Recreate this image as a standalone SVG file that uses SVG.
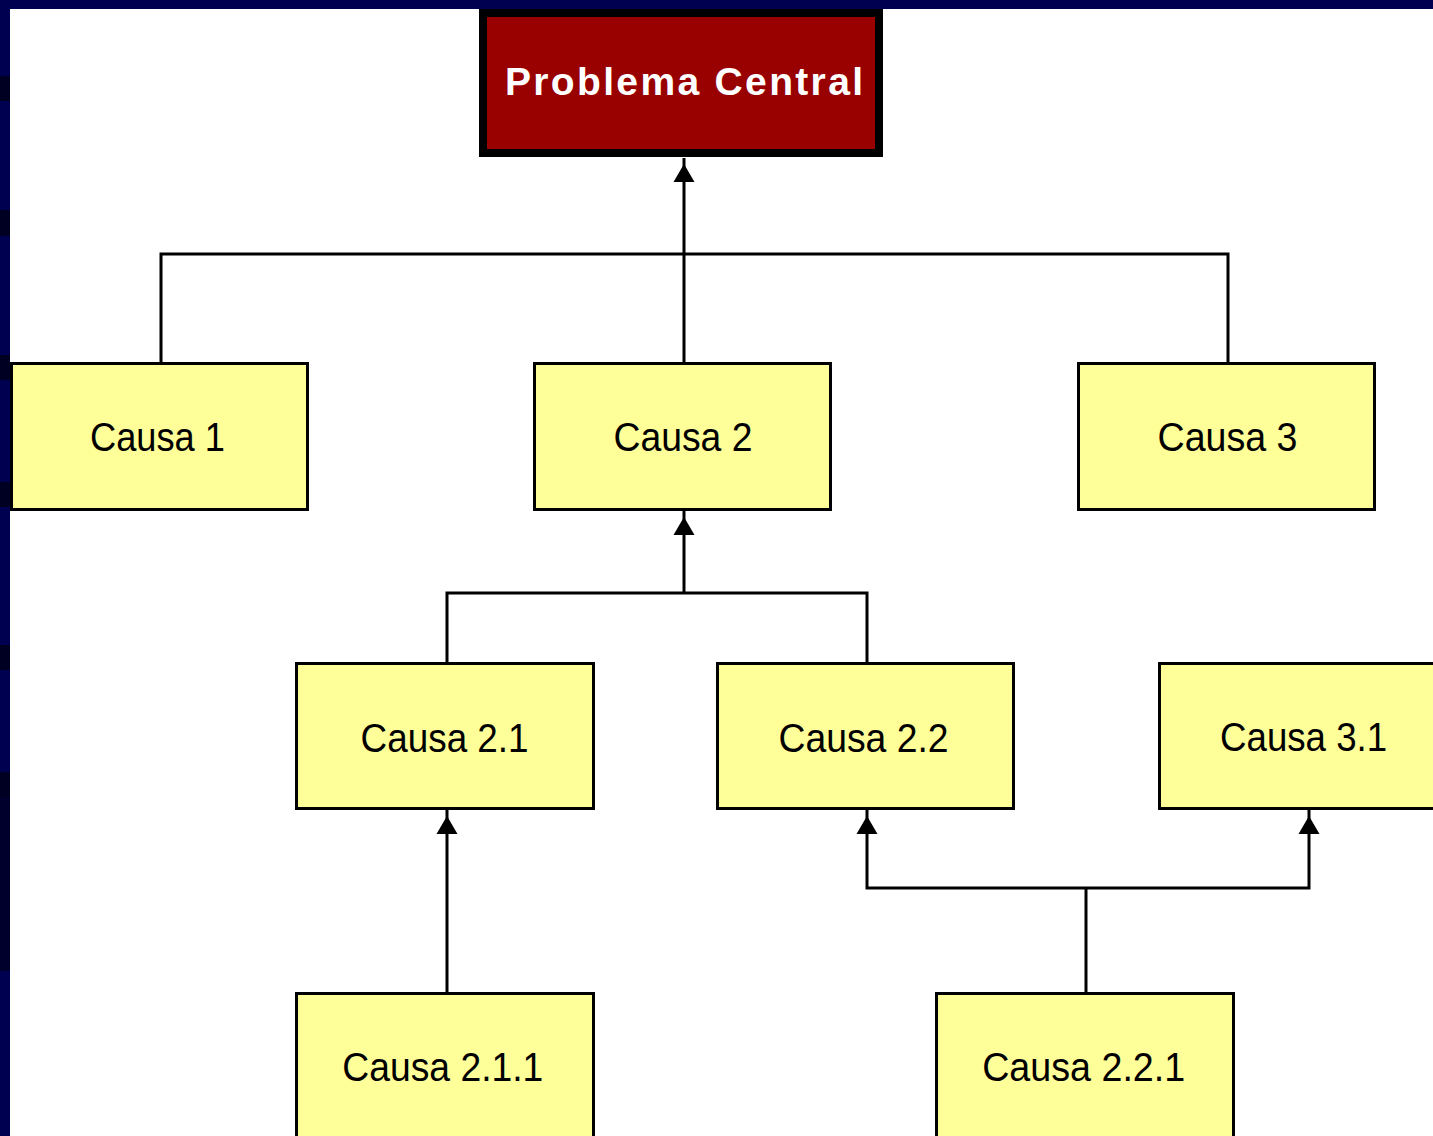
<svg xmlns="http://www.w3.org/2000/svg" xmlns:xlink="http://www.w3.org/1999/xlink" width="1433" height="1136" viewBox="0 0 1433 1136">
<style>
.node rect.cause{fill:#FFFF99;stroke:#000;stroke-width:3}
.node text.cause{font-family:"Liberation Sans",Arial,sans-serif;font-size:40px;fill:#000;text-anchor:middle}
.conn path{fill:none;stroke:#000;stroke-width:3}
.conn use{fill:#000}
.frame{fill:#000050}
.shade{fill:#000022}
</style>
<defs>
<polygon id="ah" points="0,0 10.5,18 -10.5,18"/>
</defs>
<rect x="0" y="0" width="1433" height="1136" fill="#FFFFFF"/>
<g id="frame">
<rect class="frame" x="0" y="0" width="1433" height="9"/>
<rect class="frame" x="0" y="0" width="10" height="1136"/>
<rect class="shade" x="0" y="76" width="10" height="25"/>
<rect class="shade" x="0" y="210" width="10" height="26"/>
<rect class="shade" x="0" y="355" width="10" height="25"/>
<rect class="shade" x="0" y="482" width="10" height="25"/>
<rect class="shade" x="0" y="645" width="10" height="25"/>
<rect class="shade" x="0" y="772" width="10" height="25"/>
<rect x="0" y="797" width="10" height="174" fill="#00002c"/>
</g>
<g id="connectors" class="conn">
<path d="M161,362 V254 H1228 V362"/>
<path d="M684,362 V158"/>
<use xlink:href="#ah" x="684" y="164"/>
<path d="M447,662 V593 H867 V662"/>
<path d="M684,593 V511"/>
<use xlink:href="#ah" x="684" y="517"/>
<path d="M447,992 V810"/>
<use xlink:href="#ah" x="447" y="816"/>
<path d="M1086,992 V888"/>
<path d="M867,810 V888 H1309 V810"/>
<use xlink:href="#ah" x="867" y="816"/>
<use xlink:href="#ah" x="1309" y="816"/>
</g>
<g id="node-problema" class="node">
<rect x="483" y="13" width="396" height="140" fill="#990000" stroke="#000" stroke-width="8"/>
<text x="684" y="95" font-family="Liberation Sans,Arial,sans-serif" font-size="39" font-weight="bold" fill="#FFFFFF" text-anchor="middle" textLength="358" lengthAdjust="spacing">Problema Central</text>
</g>
<g id="node-causa1" class="node">
<rect class="cause" x="11.5" y="363.5" width="296" height="146"/>
<text class="cause" x="157.5" y="451" textLength="135" lengthAdjust="spacingAndGlyphs">Causa 1</text>
</g>
<g id="node-causa2" class="node">
<rect class="cause" x="534.5" y="363.5" width="296" height="146"/>
<text class="cause" x="683" y="451" textLength="139" lengthAdjust="spacingAndGlyphs">Causa 2</text>
</g>
<g id="node-causa3" class="node">
<rect class="cause" x="1078.5" y="363.5" width="296" height="146"/>
<text class="cause" x="1227.5" y="451" textLength="140" lengthAdjust="spacingAndGlyphs">Causa 3</text>
</g>
<g id="node-causa21" class="node">
<rect class="cause" x="296.5" y="663.5" width="297" height="145"/>
<text class="cause" x="444.6" y="752" textLength="168" lengthAdjust="spacingAndGlyphs">Causa 2.1</text>
</g>
<g id="node-causa22" class="node">
<rect class="cause" x="717.5" y="663.5" width="296" height="145"/>
<text class="cause" x="863.5" y="752" textLength="170" lengthAdjust="spacingAndGlyphs">Causa 2.2</text>
</g>
<g id="node-causa31" class="node">
<rect class="cause" x="1159.5" y="663.5" width="296" height="145"/>
<text class="cause" x="1303.6" y="751" textLength="167" lengthAdjust="spacingAndGlyphs">Causa 3.1</text>
</g>
<g id="node-causa211" class="node">
<rect class="cause" x="296.5" y="993.5" width="297" height="200"/>
<text class="cause" x="442.8" y="1081" textLength="201" lengthAdjust="spacingAndGlyphs">Causa 2.1.1</text>
</g>
<g id="node-causa221" class="node">
<rect class="cause" x="936.5" y="993.5" width="297" height="200"/>
<text class="cause" x="1083.7" y="1081" textLength="203" lengthAdjust="spacingAndGlyphs">Causa 2.2.1</text>
</g>
</svg>
